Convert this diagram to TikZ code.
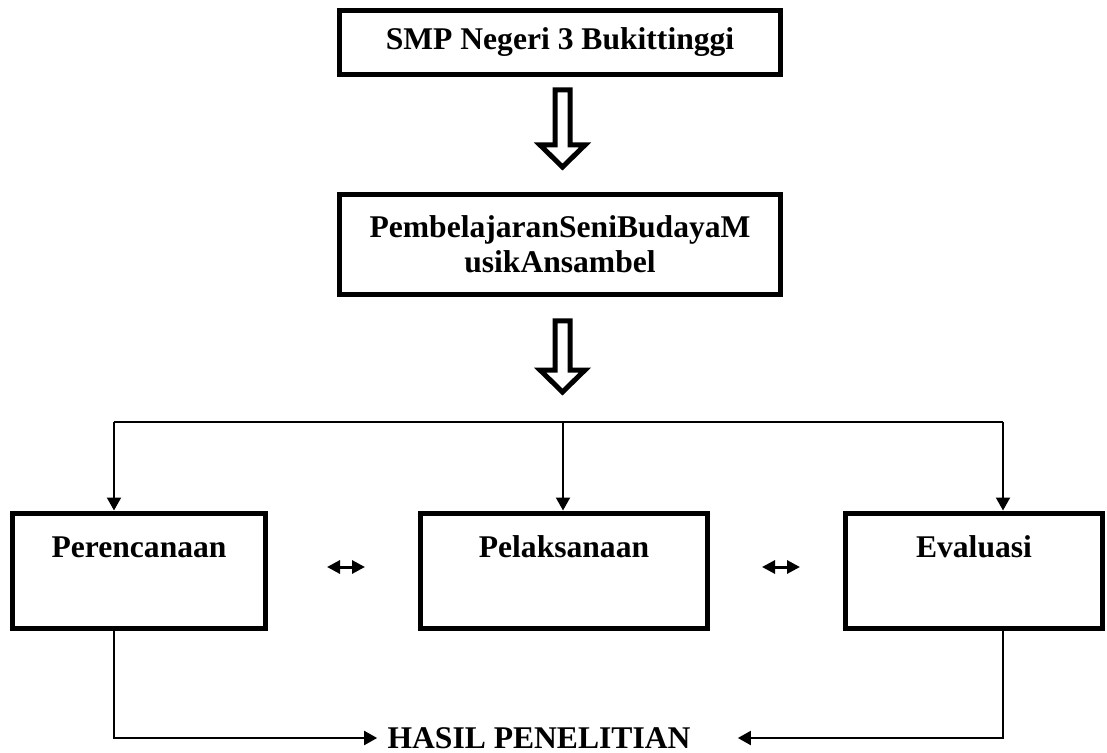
\documentclass[tikz,border=0pt]{standalone}
\usepackage{fontspec}
\setmainfont{Liberation Serif}
\usetikzlibrary{arrows.meta}

\tikzset{
  box/.style={draw, line width=2.5pt, align=center, inner sep=0pt,
    font=\fontsize{15.8}{17.5}\selectfont\bfseries},
  stagebox/.style={box, anchor=north, minimum height=57.5pt, text height=22.25pt, text depth=35.25pt},
  hollow/.style={draw, line width=2.5pt, line join=miter},
  link/.style={line width=1pt, -{Triangle[length=6.5pt, width=7pt]}},
  twoway/.style={line width=1.5pt, {Triangle[length=6.5pt, width=6.5pt]}-{Triangle[length=6.5pt, width=6.5pt]}},
}

\begin{document}
\begin{tikzpicture}[x=0.5pt, y=-0.5pt]
  \useasboundingbox (0,0) rectangle (1107,753);

  % top boxes
  \node[box, minimum width=220.5pt, minimum height=32pt] (smp) at (560,42.5) {SMP Negeri 3 Bukittinggi};
  \node[box, minimum width=220.5pt, minimum height=50pt] (seni) at (560,244.5) {PembelajaranSeniBudayaM\\usikAnsambel};

  % hollow arrows
  \foreach \t/\b/\e in {90/145/167, 321/370/392}
    \draw[hollow] (555,\t) -- (570,\t) -- (570,\b) -- (585,\b) -- (562.5,\e)
      -- (540,\b) -- (555,\b) -- cycle;

  % stages
  \node[stagebox, minimum width=126.5pt] (per) at (139,510.5) {Perencanaan};
  \node[stagebox, minimum width=143.5pt] (pel) at (564,510.5) {Pelaksanaan};
  \node[stagebox, minimum width=128.5pt] (eva) at (974,510.5) {Evaluasi};

  \node[font=\fontsize{15.8}{16.5}\selectfont\bfseries, inner xsep=5pt, text height=10.5pt, text depth=0pt, inner ysep=0pt] (hasil) at (539,738) {HASIL PENELITIAN};

  % branch
  \coordinate (bl) at (114,422);
  \coordinate (bm) at (563,422);
  \coordinate (br) at (1003,422);
  \draw[line width=1pt] (bl) -- (br);
  \draw[link] (bl) -- (bl |- per.north);
  \draw[link] (bm) -- (bm |- pel.north);
  \draw[link] (br) -- (br |- eva.north);

  % between stages
  \coordinate (d1) at (327,567);
  \coordinate (d2) at (365,567);
  \coordinate (d3) at (762,567);
  \coordinate (d4) at (800,567);
  \draw[twoway] (d1) -- (d2);
  \draw[twoway] (d3) -- (d4);

  % to result
  \draw[link] (bl |- per.south) |- (hasil.west);
  \draw[link, shorten >=18.5pt] (br |- eva.south) |- (hasil.east);
\end{tikzpicture}
\end{document}
